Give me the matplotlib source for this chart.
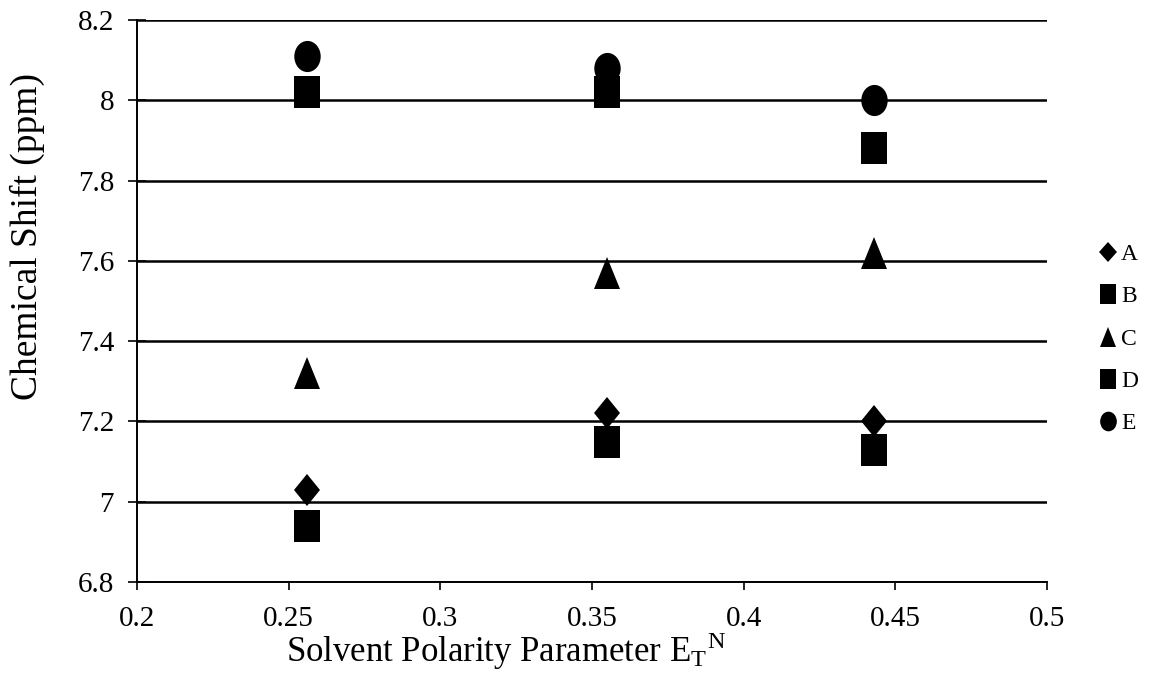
import numpy as np
import matplotlib
matplotlib.use('Agg')
import matplotlib.pyplot as plt
from matplotlib.markers import MarkerStyle
from matplotlib.transforms import Affine2D

plt.rcParams['font.family'] = ['Liberation Serif', 'DejaVu Serif']
plt.rcParams['mathtext.fontset'] = 'stix'

# solvent polarity (E_T^N) and chemical shifts (ppm)
et_n = [0.256, 0.355, 0.443]
shift_a = [7.03, 7.22, 7.20]
shift_b = [6.94, 7.15, 7.13]
shift_c = [7.32, 7.57, 7.62]
shift_d = [8.02, 8.02, 7.88]
shift_e = [8.11, 8.08, 8.00]
series_names = ['A', 'B', 'C', 'D', 'E']
x_ticks = [0.2, 0.25, 0.3, 0.35, 0.4, 0.45, 0.5]
y_ticks = [6.8, 7.0, 7.2, 7.4, 7.6, 7.8, 8.0, 8.2]

series = [shift_a, shift_b, shift_c, shift_d, shift_e]
shapes = ['D', 's', '^', 's', 'o']
sizes = [13.5, 19, 19, 19, 19]
leg_sizes = [9, 12, 12, 12, 12]

stretch = Affine2D().scale(1, 1.18)

fig = plt.figure(figsize=(11.51, 6.83), dpi=100)
ax = fig.add_axes([137 / 1151, 1 - 582 / 683, 910 / 1151, 562 / 683])

for vals, shp, ms, name in zip(series, shapes, sizes, series_names):
    ax.plot(et_n, vals, linestyle='none', color='black',
            marker=MarkerStyle(shp, transform=stretch), markersize=ms,
            markeredgewidth=0, label=name, clip_on=False, zorder=3)

ax.set_xlim(0.2, 0.5)
ax.set_ylim(6.8, 8.2)
ax.set_xticks(x_ticks)
ax.set_yticks(y_ticks)
ax.set_xticklabels(['0.2', '0.25', '0.3', '0.35', '0.4', '0.45', '0.5'])
ax.set_yticklabels(['6.8', '7', '7.2', '7.4', '7.6', '7.8', '8', '8.2'])
ax.yaxis.grid(True, color='black', linewidth=1.8)
ax.set_axisbelow(True)

for s in ['top', 'right']:
    ax.spines[s].set_visible(False)
for s in ['left', 'bottom']:
    ax.spines[s].set_linewidth(1.4)
    ax.spines[s].set_color('black')

ax.tick_params(axis='y', direction='inout', length=13, width=1.2,
               labelsize=21, pad=10)
ax.tick_params(axis='x', direction='out', length=6, width=1.2,
               labelsize=21, pad=11)

fig.text(506 / 1151, 1 - 662 / 683, r'Solvent Polarity Parameter E$_\mathregular{T}$$^\mathregular{N}$',
         ha='center', va='baseline', fontsize=25)
fig.text(27 / 1151, 1 - 236 / 683, 'Chemical Shift (ppm)',
         ha='center', va='center', rotation=90, fontsize=27)

handles, labels = ax.get_legend_handles_labels()
leg = fig.legend(handles, labels, loc='center left',
                 bbox_to_anchor=(1088 / 1151, 1 - 339 / 683),
                 frameon=False, fontsize=17, handlelength=0.7,
                 handletextpad=0.2, labelspacing=0.88, borderpad=0)
for h, ms in zip(leg.legend_handles, leg_sizes):
    h.set_markersize(ms)

fig.savefig('out.png', dpi=100)
